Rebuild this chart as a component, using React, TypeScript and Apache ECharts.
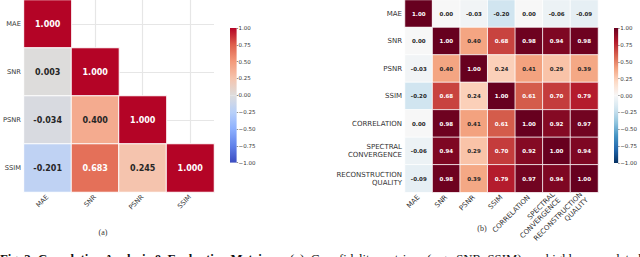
import React, { useEffect, useRef } from "react";
import * as echarts from "echarts";

// ---------- data ----------
const leftCategories = ["MAE", "SNR", "PSNR", "SSIM"];
const leftValues: (number | null)[][] = [
  [1.0, null, null, null],
  [0.003, 1.0, null, null],
  [-0.034, 0.4, 1.0, null],
  [-0.201, 0.683, 0.245, 1.0],
];

const rightCategories = [
  "MAE",
  "SNR",
  "PSNR",
  "SSIM",
  "CORRELATION",
  "SPECTRAL\nCONVERGENCE",
  "RECONSTRUCTION\nQUALITY",
];
const rightValues: number[][] = [
  [1.0, 0.0, -0.03, -0.2, 0.0, -0.06, -0.09],
  [0.0, 1.0, 0.4, 0.68, 0.98, 0.94, 0.98],
  [-0.03, 0.4, 1.0, 0.24, 0.41, 0.29, 0.39],
  [-0.2, 0.68, 0.24, 1.0, 0.61, 0.7, 0.79],
  [0.0, 0.98, 0.41, 0.61, 1.0, 0.92, 0.97],
  [-0.06, 0.94, 0.29, 0.7, 0.92, 1.0, 0.94],
  [-0.09, 0.98, 0.39, 0.79, 0.97, 0.94, 1.0],
];

const colorbarMin = -1;
const colorbarMax = 1;
const colorbarStep = 0.25;

const captionBold = "Fig. 3: Correlation Analysis & Evaluation Metrics.";
const captionWords = [
  { text: "(a)", x: 290 },
  { text: "Core fidelity metrics", x: 311 },
  { text: "(e.g., SNR, SSIM)", x: 427 },
  { text: "are highly", x: 527 },
  { text: "correlated", x: 590 },
];

// ---------- colormaps ----------
const coolwarm = [
  "#3b4cc0",
  "#6282ea",
  "#8db0fe",
  "#b8d0f9",
  "#dddcdc",
  "#f5c4ad",
  "#f49a7b",
  "#de604d",
  "#b40426",
];
const rdbuR = [
  "#053061",
  "#2166ac",
  "#4393c3",
  "#92c5de",
  "#d1e5f0",
  "#f7f7f7",
  "#fddbc7",
  "#f4a582",
  "#d6604d",
  "#b2182b",
  "#67001f",
];

function hexToRgb(h: string): number[] {
  const n = parseInt(h.slice(1), 16);
  return [(n >> 16) & 255, (n >> 8) & 255, n & 255];
}
function sample(cmap: string[], t: number): number[] {
  const tt = Math.max(0, Math.min(1, t));
  const pos = tt * (cmap.length - 1);
  const i = Math.min(cmap.length - 2, Math.floor(pos));
  const f = pos - i;
  const a = hexToRgb(cmap[i]);
  const b = hexToRgb(cmap[i + 1]);
  return [0, 1, 2].map((k) => a[k] + (b[k] - a[k]) * f);
}
function rgbStr(c: number[]) {
  return `rgb(${Math.round(c[0])},${Math.round(c[1])},${Math.round(c[2])})`;
}
function luminance(c: number[]) {
  const lin = c.map((v) => {
    const s = v / 255;
    return s <= 0.03928 ? s / 12.92 : Math.pow((s + 0.055) / 1.055, 2.4);
  });
  return 0.2126 * lin[0] + 0.7152 * lin[1] + 0.0722 * lin[2];
}
function textColorFor(cmap: string[], v: number) {
  const t = (v - colorbarMin) / (colorbarMax - colorbarMin);
  return luminance(sample(cmap, t)) > 0.408 ? "#262626" : "#ffffff";
}
function gradientStops(cmap: string[], t0: number, t1: number) {
  const stops: { offset: number; color: string }[] = [];
  const n = 24;
  for (let i = 0; i <= n; i++) {
    const o = i / n;
    const t = t1 + (t0 - t1) * o;
    stops.push({ offset: o, color: rgbStr(sample(cmap, t)) });
  }
  return stops;
}

const FONT = "DejaVu Sans";

export default function App() {
  const ref = useRef<HTMLDivElement>(null);

  useEffect(() => {
    if (!ref.current) return;
    const chart = echarts.init(ref.current, undefined, { renderer: "svg" });

    const leftData: any[] = [];
    leftValues.forEach((row, yi) =>
      row.forEach((v, xi) => {
        if (v === null) return;
        leftData.push({
          value: [xi, yi, v],
          label: { color: textColorFor(coolwarm, v) },
        });
      })
    );
    const rightData: any[] = [];
    rightValues.forEach((row, yi) =>
      row.forEach((v, xi) => {
        rightData.push({
          value: [xi, yi, v],
          label: { color: textColorFor(rdbuR, v) },
        });
      })
    );

    const cbLabel = (v: number) => v.toFixed(2).replace("-", "\u2212");

    const cbAxis = (gi: number) => ({
      type: "value",
      gridIndex: gi,
      position: "right",
      min: colorbarMin,
      max: colorbarMax,
      interval: colorbarStep,
      axisLine: { show: false },
      axisTick: { show: true, length: 1.5, lineStyle: { color: "#444", width: 0.6 } },
      splitLine: { show: false },
      axisLabel: { fontSize: 5.5, color: "#333", margin: 2, formatter: cbLabel },
    });

    const option: any = {
      animation: false,
      textStyle: { fontFamily: FONT },
      grid: [
        { left: 22, top: 0, width: 192, height: 192 },
        { left: 405, top: -2, width: 193, height: 194.3 },
        { left: 230, top: 28, width: 6.6, height: 134.6 },
        { left: 614, top: 28, width: 6.6, height: 135 },
      ],
      xAxis: [
        {
          type: "category",
          gridIndex: 0,
          data: leftCategories,
          axisLine: { show: false },
          axisTick: { show: false },
          axisLabel: {
            rotate: 45,
            fontSize: 6.7,
            color: "#333",
            margin: 4,
            interval: 0,
          },
          splitLine: {
            show: true,
            alignWithLabel: true,
            lineStyle: { color: "#e6e6e6", width: 1.2 },
          },
        },
        {
          type: "category",
          gridIndex: 1,
          data: rightCategories,
          axisLine: { show: false },
          axisTick: { show: false },
          axisLabel: {
            rotate: 45,
            fontSize: 7,
            lineHeight: 8,
            color: "#333",
            margin: 4,
            interval: 0,
          },
        },
        { type: "category", gridIndex: 2, data: [""], show: false },
        { type: "category", gridIndex: 3, data: [""], show: false },
      ],
      yAxis: [
        {
          type: "category",
          gridIndex: 0,
          data: leftCategories,
          inverse: true,
          axisLine: { show: false },
          axisTick: { show: false },
          axisLabel: { fontSize: 6.7, color: "#333", margin: 3, interval: 0 },
          splitLine: {
            show: true,
            alignWithLabel: true,
            lineStyle: { color: "#e6e6e6", width: 1.2 },
          },
        },
        {
          type: "category",
          gridIndex: 1,
          data: rightCategories,
          inverse: true,
          axisLine: { show: false },
          axisTick: { show: false },
          axisLabel: {
            fontSize: 7,
            lineHeight: 8,
            color: "#333",
            margin: 3,
            interval: 0,
            align: "right",
          },
        },
        cbAxis(2),
        cbAxis(3),
      ],
      visualMap: [
        {
          type: "continuous",
          show: false,
          min: colorbarMin,
          max: colorbarMax,
          dimension: 2,
          seriesIndex: 0,
          inRange: { color: coolwarm },
        },
        {
          type: "continuous",
          show: false,
          min: colorbarMin,
          max: colorbarMax,
          dimension: 2,
          seriesIndex: 1,
          inRange: { color: rdbuR },
        },
      ],
      series: [
        {
          type: "heatmap",
          xAxisIndex: 0,
          yAxisIndex: 0,
          data: leftData,
          itemStyle: { borderColor: "#ffffff", borderWidth: 1 },
          label: {
            show: true,
            fontSize: 8,
            fontWeight: "bold",
            fontFamily: FONT,
            formatter: (p: any) => p.value[2].toFixed(3),
          },
          emphasis: { disabled: true },
        },
        {
          type: "heatmap",
          xAxisIndex: 1,
          yAxisIndex: 1,
          data: rightData,
          itemStyle: { borderColor: "#ffffff", borderWidth: 0.8 },
          label: {
            show: true,
            fontSize: 5.5,
            fontWeight: "bold",
            fontFamily: FONT,
            formatter: (p: any) => p.value[2].toFixed(2),
          },
          emphasis: { disabled: true },
        },
        ...[
          { cmap: coolwarm, xi: 2 },
          { cmap: rdbuR, xi: 3 },
        ].flatMap(({ cmap, xi }) => [
          {
            type: "bar",
            xAxisIndex: xi,
            yAxisIndex: xi,
            barWidth: "100%",
            barGap: "-100%",
            data: [colorbarMax],
            silent: true,
            itemStyle: {
              color: new echarts.graphic.LinearGradient(0, 0, 0, 1, gradientStops(cmap, 0.5, 1)),
            },
          },
          {
            type: "bar",
            xAxisIndex: xi,
            yAxisIndex: xi,
            barWidth: "100%",
            barGap: "-100%",
            data: [colorbarMin],
            silent: true,
            itemStyle: {
              color: new echarts.graphic.LinearGradient(0, 0, 0, 1, gradientStops(cmap, 0, 0.5)),
            },
          },
        ]),
      ],
      graphic: [
        {
          type: "text",
          x: 103,
          y: 232,
          style: {
            text: "(a)",
            font: '8px "Liberation Serif"',
            fill: "#333",
            align: "center",
            verticalAlign: "middle",
          },
        },
        {
          type: "text",
          x: 482,
          y: 228,
          style: {
            text: "(b)",
            font: '8px "Liberation Serif"',
            fill: "#333",
            align: "center",
            verticalAlign: "middle",
          },
        },
        {
          type: "text",
          x: 0,
          y: 252.5,
          style: {
            text: captionBold,
            font: 'bold 12.8px "Liberation Serif"',
            fill: "#111",
            verticalAlign: "top",
          },
        },
        ...captionWords.map((w) => ({
          type: "text",
          x: w.x,
          y: 252.5,
          style: {
            text: w.text,
            font: '12.8px "Liberation Serif"',
            fill: "#111",
            verticalAlign: "top",
          },
        })),
      ],
    };

    chart.setOption(option);
    return () => chart.dispose();
  }, []);

  return (
    <div
      ref={ref}
      style={{ position: "fixed", left: 0, top: 0, width: 640, height: 257, background: "#fff" }}
    />
  );
}
